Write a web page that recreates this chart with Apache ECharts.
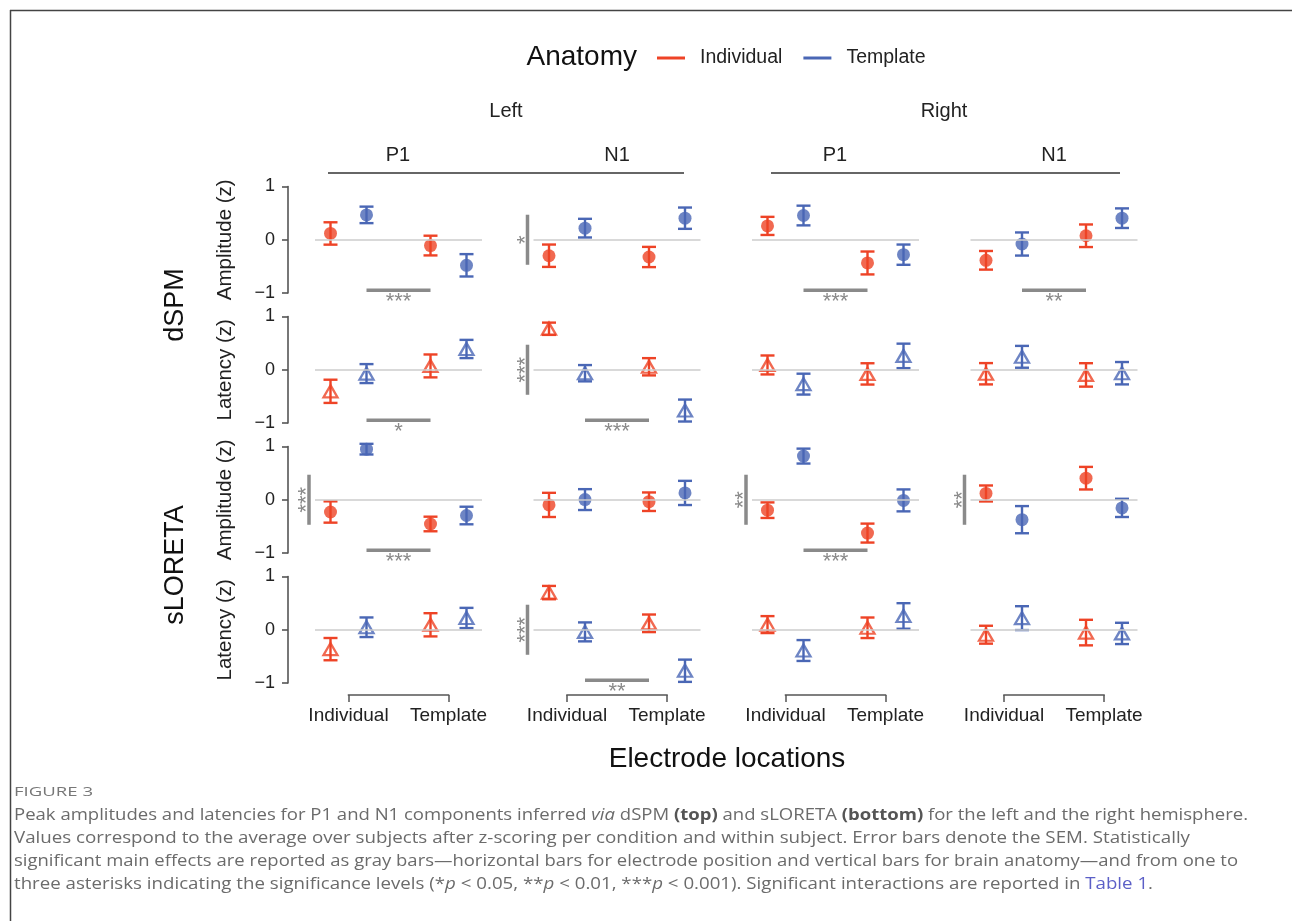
<!DOCTYPE html>
<html>
<head>
<meta charset="utf-8">
<script src="https://cdn.jsdelivr.net/npm/echarts@6/dist/echarts.min.js"></script>
<style>
html,body{margin:0;padding:0;background:#fff;}
#chart{width:1292px;height:921px;}
</style>
</head>
<body>
<div id="chart"></div>
<script>
// ---------- data ----------
const hemispheres = ['Left', 'Right'];
const components = ['P1', 'N1', 'P1', 'N1'];
const electrodeLabels = ['Individual', 'Template'];
const anatomyLabels = ['Individual', 'Template'];
const methods = ['dSPM', 'sLORETA'];
const measures = ['Amplitude (z)', 'Latency (z)', 'Amplitude (z)', 'Latency (z)'];
const yTicks = [-1, 0, 1];

// per panel order: [IndElec-IndAnat, IndElec-TplAnat, TplElec-IndAnat, TplElec-TplAnat]
// panels: Left P1, Left N1, Right P1, Right N1
const dspmAmpMean = [
  [0.118, 0.467, -0.109, -0.48],
  [-0.30, 0.218, -0.324, 0.405],
  [0.26, 0.455, -0.436, -0.28],
  [-0.386, -0.08, 0.075, 0.405]
];
const dspmAmpSem = [
  [0.21, 0.155, 0.185, 0.21],
  [0.21, 0.175, 0.19, 0.20],
  [0.17, 0.185, 0.215, 0.19],
  [0.175, 0.217, 0.212, 0.184]
];
const dspmLatMean = [
  [-0.405, -0.072, 0.072, 0.39],
  [0.77, -0.065, 0.056, -0.766],
  [0.09, -0.27, -0.078, 0.26],
  [-0.075, 0.243, -0.097, -0.065]
];
const dspmLatSem = [
  [0.218, 0.178, 0.215, 0.171],
  [0.115, 0.153, 0.162, 0.206],
  [0.178, 0.196, 0.20, 0.23],
  [0.20, 0.205, 0.22, 0.21]
];
const sloretaAmpMean = [
  [-0.23, 0.95, -0.455, -0.296],
  [-0.097, 0.003, -0.037, 0.128],
  [-0.196, 0.82, -0.626, -0.012],
  [0.118, -0.374, 0.405, -0.153]
];
const sloretaAmpSem = [
  [0.20, 0.10, 0.137, 0.165],
  [0.227, 0.196, 0.174, 0.227],
  [0.146, 0.14, 0.178, 0.206],
  [0.15, 0.255, 0.212, 0.171]
];
const sloretaLatMean = [
  [-0.364, 0.047, 0.093, 0.221],
  [0.698, -0.04, 0.121, -0.77],
  [0.097, -0.39, 0.037, 0.259],
  [-0.093, 0.218, -0.053, -0.069]
];
const sloretaLatSem = [
  [0.209, 0.184, 0.218, 0.19],
  [0.125, 0.178, 0.165, 0.209],
  [0.159, 0.196, 0.193, 0.24],
  [0.168, 0.224, 0.24, 0.20]
];

// significance: horizontal bars = electrode effect, vertical bars = anatomy effect
const electrodeEffects = [
  {row: 0, col: 0, label: '***'}, {row: 0, col: 2, label: '***'}, {row: 0, col: 3, label: '**'},
  {row: 1, col: 0, label: '*'}, {row: 1, col: 1, label: '***'},
  {row: 2, col: 0, label: '***'}, {row: 2, col: 2, label: '***'},
  {row: 3, col: 1, label: '**'}
];
const anatomyEffects = [
  {row: 0, col: 1, label: '*'}, {row: 1, col: 1, label: '***'},
  {row: 2, col: 0, label: '***'}, {row: 2, col: 2, label: '**'}, {row: 2, col: 3, label: '**'},
  {row: 3, col: 1, label: '***'}
];

const figureLabel = 'FIGURE 3';
const captionLines = [
  'Peak amplitudes and latencies for P1 and N1 components inferred {i|via} dSPM {b|(top)} and sLORETA {b|(bottom)} for the left and the right hemisphere.',
  'Values correspond to the average over subjects after z-scoring per condition and within subject. Error bars denote the SEM. Statistically',
  'significant main effects are reported as gray bars\u2014horizontal bars for electrode position and vertical bars for brain anatomy\u2014and from one to',
  'three asterisks indicating the significance levels (*{i|p} < 0.05, **{i|p} < 0.01, ***{i|p} < 0.001). Significant interactions are reported in {l|Table 1}.'
];

// ---------- layout / style ----------
const RED = '#EE4326';
const BLUE = '#4A67B5';
const FONT = 'Liberation Sans, Arial, sans-serif';
const rowMeans = [dspmAmpMean, dspmLatMean, sloretaAmpMean, sloretaLatMean];
const rowSems = [dspmAmpSem, dspmLatSem, sloretaAmpSem, sloretaLatSem];
const rowIsLatency = [false, true, false, true];
const colLeft = [315, 533.5, 752, 970.5];
const panelW = 167;
const rowTop = [186.5, 316.5, 446.5, 576.5];
const panelH = 106.5;
const dodge = 0.18;
const xMin = 0.665, xMax = 2.335;

const grids = [], xAxes = [], yAxes = [], series = [];

function errRender(params, api) {
  const x = api.value(0), m = api.value(1), s = api.value(2);
  const t = api.coord([x, m + s]), b = api.coord([x, m - s]);
  const hw = 7;
  const st = {stroke: api.visual('color'), lineWidth: 2.4};
  return {type: 'group', children: [
    {type: 'line', shape: {x1: t[0], y1: t[1], x2: b[0], y2: b[1]}, style: st},
    {type: 'line', shape: {x1: t[0] - hw, y1: t[1], x2: t[0] + hw, y2: t[1]}, style: st},
    {type: 'line', shape: {x1: b[0] - hw, y1: b[1], x2: b[0] + hw, y2: b[1]}, style: st}
  ]};
}

for (let r = 0; r < 4; r++) {
  for (let c = 0; c < 4; c++) {
    const gi = r * 4 + c;
    grids.push({left: colLeft[c], top: rowTop[r], width: panelW, height: panelH});
    const bottomRow = r === 3;
    xAxes.push({
      gridIndex: gi, type: 'value', min: xMin, max: xMax,
      show: bottomRow, offset: 12, position: 'bottom',
      axisLine: {show: false, onZero: false},
      splitLine: {show: false},
      axisTick: {show: bottomRow, customValues: [1, 2], length: 7, lineStyle: {color: '#555', width: 1.5}},
      axisLabel: {show: bottomRow, customValues: [1, 2], margin: 11,
        formatter: v => electrodeLabels[Math.round(v) - 1] || '',
        fontFamily: FONT, fontSize: 19, color: '#222'}
    });
    const firstCol = c === 0;
    yAxes.push({
      gridIndex: gi, type: 'value', min: yTicks[0], max: yTicks[2], interval: 1,
      show: firstCol, offset: 27,
      axisLine: {show: firstCol, onZero: false, lineStyle: {color: '#555', width: 1.6}},
      axisTick: {show: firstCol, length: 6, lineStyle: {color: '#555', width: 1.6}},
      splitLine: {show: false},
      axisLabel: {show: firstCol, margin: 13, fontFamily: FONT, fontSize: 18, color: '#222',
        formatter: v => (v < 0 ? '\u2212' + Math.abs(v) : String(v))}
    });
    // zero reference line
    series.push({
      type: 'custom', xAxisIndex: gi, yAxisIndex: gi, z: 1, silent: true,
      data: [[1, 0]], renderItem: () => null,
      markLine: {silent: true, symbol: ['none', 'none'], label: {show: false},
        lineStyle: {color: '#cccccc', width: 1.6, type: 'solid'},
        emphasis: {disabled: true}, data: [{yAxis: 0}]}
    });
    const means = rowMeans[r][c], sems = rowSems[r][c];
    for (let a = 0; a < 2; a++) {
      const color = a === 0 ? RED : BLUE;
      const data = electrodeLabels.map((e, ei) => [ei + 1 + (a === 0 ? -dodge : dodge), means[ei * 2 + a], sems[ei * 2 + a]]);
      series.push({
        type: 'custom', name: anatomyLabels[a], xAxisIndex: gi, yAxisIndex: gi, z: 2,
        itemStyle: {color: color}, data: data, renderItem: errRender, silent: true
      });
      series.push({
        type: 'scatter', name: anatomyLabels[a], xAxisIndex: gi, yAxisIndex: gi, z: 3,
        symbol: rowIsLatency[r] ? 'triangle' : 'circle',
        symbolSize: rowIsLatency[r] ? [14, 12] : 13,
        itemStyle: rowIsLatency[r]
          ? {color: 'rgba(255,255,255,0)', borderColor: color, borderWidth: 2.3}
          : {color: color},
        data: data.map(d => [d[0], d[1]]), silent: true
      });
    }
    if (bottomRow) {
      series.push({
        type: 'custom', xAxisIndex: gi, yAxisIndex: gi, z: 2, silent: true,
        data: [[1, 2]],
        renderItem: (p, api) => {
          const a = api.coord([api.value(0), -1]), b = api.coord([api.value(1), -1]);
          const y = a[1] + 12;
          return {type: 'line', shape: {x1: a[0] - 0.75, y1: y, x2: b[0] + 0.75, y2: y}, style: {stroke: '#555', lineWidth: 1.5}};
        }
      });
    }
  }
}

// significance bars
const SIG = '#8a8a8a';
electrodeEffects.forEach(eff => {
  const gi = eff.row * 4 + eff.col;
  series.push({
    type: 'custom', xAxisIndex: gi, yAxisIndex: gi, z: 2, silent: true,
    data: [[1 + dodge, 2 - dodge, -0.95]],
    renderItem: (p, api) => {
      const a = api.coord([api.value(0), api.value(2)]), b = api.coord([api.value(1), api.value(2)]);
      return {type: 'group', children: [
        {type: 'line', shape: {x1: a[0], y1: a[1], x2: b[0], y2: b[1]}, style: {stroke: SIG, lineWidth: 3.5}},
        {type: 'text', x: (a[0] + b[0]) / 2, y: a[1] + 1,
          style: {text: eff.label, fill: SIG, font: '22px ' + FONT, align: 'center', verticalAlign: 'top'}}
      ]};
    }
  });
});
anatomyEffects.forEach(eff => {
  const gi = eff.row * 4 + eff.col;
  series.push({
    type: 'custom', xAxisIndex: gi, yAxisIndex: gi, z: 2, silent: true,
    data: [[0.605, -0.47, 0.47]],
    renderItem: (p, api) => {
      const a = api.coord([api.value(0), api.value(1)]), b = api.coord([api.value(0), api.value(2)]);
      return {type: 'group', children: [
        {type: 'line', shape: {x1: a[0], y1: a[1], x2: b[0], y2: b[1]}, style: {stroke: SIG, lineWidth: 3.5}},
        {type: 'text', x: a[0] - 2, y: (a[1] + b[1]) / 2, rotation: Math.PI / 2,
          style: {text: eff.label, fill: SIG, font: '22px ' + FONT, align: 'center', verticalAlign: 'middle'}}
      ]};
    }
  });
});

// ---------- decorations ----------
const capFont = 'Open Sans, sans-serif';
const capSize = 16.5;
const capLineEnds = [1248, 1190, 1238, 1153];
const mctx = document.createElement('canvas').getContext('2d');
function richWidth(t) {
  let w = 0, last = 0;
  const re = /\{(\w)\|([^}]*)\}/g;
  let m;
  const seg = (txt, style) => {
    mctx.font = (style === 'i' ? 'italic ' : style === 'b' ? 'bold ' : '') + capSize + 'px ' + capFont;
    w += mctx.measureText(txt).width;
  };
  while ((m = re.exec(t)) !== null) {
    seg(t.slice(last, m.index), '');
    seg(m[2], m[1]);
    last = re.lastIndex;
  }
  seg(t.slice(last), '');
  return w;
}
mctx.font = '13px ' + capFont;
const figScale = 79 / mctx.measureText(figureLabel).width;

const graphic = [];
graphic.push({type: 'line', shape: {x1: 10, y1: 10.5, x2: 1292, y2: 10.5}, style: {stroke: '#444', lineWidth: 1.5}});
graphic.push({type: 'line', shape: {x1: 10.5, y1: 10, x2: 10.5, y2: 921}, style: {stroke: '#444', lineWidth: 1.5}});
graphic.push({type: 'text', x: 637, y: 57, style: {text: 'Anatomy', font: '28px ' + FONT, fill: '#111', align: 'right', verticalAlign: 'middle'}});
// hemisphere strips
const hemiCenter = [506, 944];
const hemiLine = [[328, 684], [771, 1120]];
hemispheres.forEach((h, i) => {
  graphic.push({type: 'text', x: hemiCenter[i], y: 111, style: {text: h, font: '20px ' + FONT, fill: '#222', align: 'center', verticalAlign: 'middle'}});
  graphic.push({type: 'line', shape: {x1: hemiLine[i][0], y1: 173, x2: hemiLine[i][1], y2: 173}, style: {stroke: '#333', lineWidth: 1.5}});
});
const compCenter = [398, 617, 835, 1054];
components.forEach((t, i) => {
  graphic.push({type: 'text', x: compCenter[i], y: 155, style: {text: t, font: '20px ' + FONT, fill: '#222', align: 'center', verticalAlign: 'middle'}});
});
measures.forEach((t, r) => {
  graphic.push({type: 'text', x: 225, y: rowTop[r] + panelH / 2, rotation: Math.PI / 2,
    style: {text: t, font: '20.5px ' + FONT, fill: '#222', align: 'center', verticalAlign: 'middle'}});
});
methods.forEach((t, i) => {
  graphic.push({type: 'text', x: 176, y: i === 0 ? 305 : 565, rotation: Math.PI / 2,
    style: {text: t, font: '27px ' + FONT, fill: '#111', align: 'center', verticalAlign: 'middle'}});
});
graphic.push({type: 'text', x: 727, y: 759, style: {text: 'Electrode locations', font: '28px ' + FONT, fill: '#111', align: 'center', verticalAlign: 'middle'}});
graphic.push({type: 'text', x: 14, y: 792, scaleX: figScale, originX: 0,
  style: {text: figureLabel, font: '13px ' + capFont, fill: '#777', align: 'left', verticalAlign: 'middle'}});
captionLines.forEach((t, i) => {
  const sx = (capLineEnds[i] - 14) / richWidth(t);
  graphic.push({type: 'text', x: 14, y: 815 + i * 23, scaleX: sx, originX: 0, style: {
    text: t, fontFamily: capFont, fontSize: capSize, fill: '#6b6b6b', align: 'left', verticalAlign: 'middle',
    rich: {
      i: {fontFamily: capFont, fontSize: capSize, fontStyle: 'italic', fill: '#6b6b6b'},
      b: {fontFamily: capFont, fontSize: capSize, fontWeight: 'bold', fill: '#555'},
      l: {fontFamily: capFont, fontSize: capSize, fill: '#5b5fc7'}
    }
  }});
});

const chart = echarts.init(document.getElementById('chart'), null, {renderer: 'canvas'});
chart.setOption({
  animation: false,
  backgroundColor: '#fff',
  grid: grids,
  xAxis: xAxes,
  yAxis: yAxes,
  legend: {
    left: 652, top: 43, itemWidth: 28, itemHeight: 3, itemGap: 21,
    selectedMode: false,
    textStyle: {fontFamily: FONT, fontSize: 19.5, color: '#222', padding: [0, 0, 0, 10]},
    data: [
      {name: 'Individual', icon: 'rect', itemStyle: {color: RED, borderWidth: 0}},
      {name: 'Template', icon: 'rect', itemStyle: {color: BLUE, borderWidth: 0}}
    ]
  },
  graphic: graphic,
  series: series
});
</script>
</body>
</html>
